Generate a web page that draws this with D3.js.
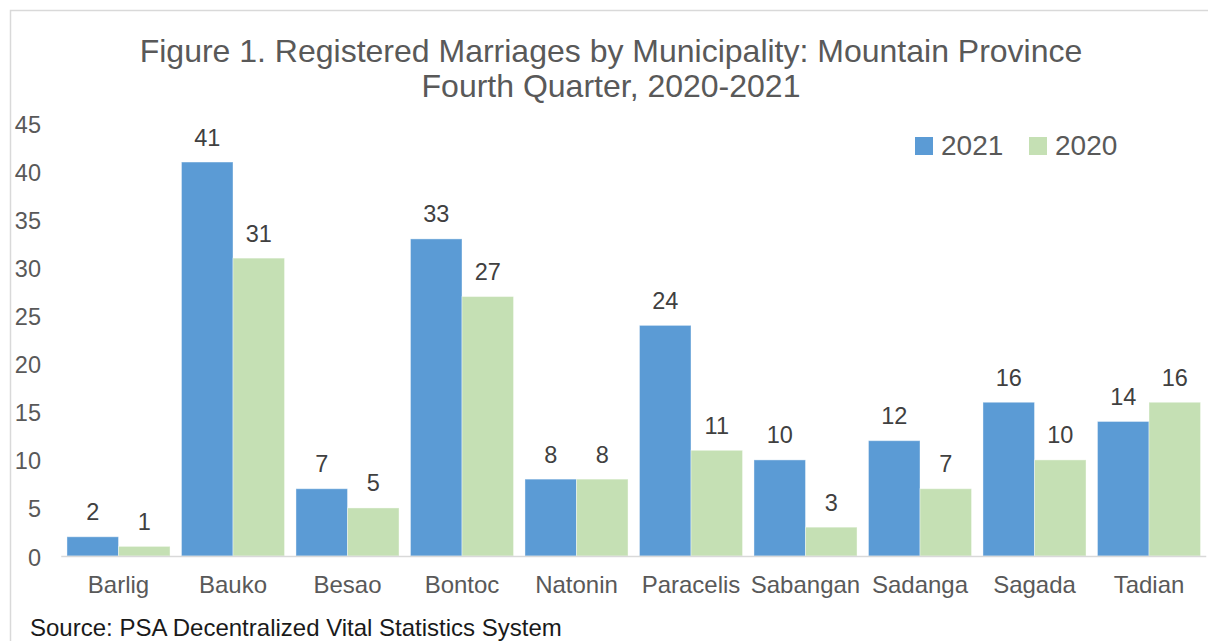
<!DOCTYPE html>
<html>
<head>
  <script src="https://d3js.org/d3.v7.min.js"></script>
  <style>
    body { margin: 0; background: #fff; }
    text { font-family: "Liberation Sans", Arial, sans-serif; }
  </style>
</head>
<body>
  <svg id="chart"></svg>
  <script>
    // data
    const categories = ['Barlig', 'Bauko', 'Besao', 'Bontoc', 'Natonin', 'Paracelis', 'Sabangan', 'Sadanga', 'Sagada', 'Tadian'];
    const series = ['2021', '2020'];
    const values2021 = [2, 41, 7, 33, 8, 24, 10, 12, 16, 14];
    const values2020 = [1, 31, 5, 27, 8, 11, 3, 7, 10, 16];
    const yTicks = [0, 5, 10, 15, 20, 25, 30, 35, 40, 45];
    const colors = { '2021': '#5b9bd5', '2020': '#c5e0b4' };

    const width = 1208, height = 641;
    const plotLeft = 61.25, plotRight = 1206.25, plotTop = 123.6, plotBottom = 556;

    const svg = d3.select('#chart').attr('width', width).attr('height', height);

    // frame
    svg.append('path')
       .attr('d', `M10.5,${height + 5} L10.5,10.5 L${width + 5},10.5`)
       .attr('fill', 'none')
       .attr('stroke', '#d9d9d9')
       .attr('stroke-width', 1.5);

    const x0 = d3.scaleBand().domain(categories).range([plotLeft, plotRight]).paddingInner(0.1).paddingOuter(0.05);
    const x1 = d3.scaleBand().domain(series).range([0, x0.bandwidth()]);
    const y = d3.scaleLinear().domain([0, 45]).range([plotBottom, plotTop]);

    // title
    svg.append('text')
       .attr('x', 611).attr('y', 62)
       .attr('text-anchor', 'middle')
       .attr('font-size', 32).attr('fill', '#595959')
       .text('Figure 1. Registered Marriages by Municipality: Mountain Province');
    svg.append('text')
       .attr('x', 611).attr('y', 97)
       .attr('text-anchor', 'middle')
       .attr('font-size', 32).attr('fill', '#595959')
       .text('Fourth Quarter, 2020-2021');

    // y axis labels
    svg.selectAll('.y-label')
       .data(yTicks)
       .enter()
       .append('text')
       .attr('class', 'y-label')
       .attr('x', 41)
       .attr('y', d => y(d) + 9.5)
       .attr('text-anchor', 'end')
       .attr('font-size', 23.5)
       .attr('fill', '#595959')
       .text(d => d);

    // bars
    const rows = categories.map((c, i) => ({ cat: c, vals: [{ s: '2021', v: values2021[i] }, { s: '2020', v: values2020[i] }] }));

    const groups = svg.selectAll('.group')
       .data(rows)
       .enter()
       .append('g')
       .attr('class', 'group')
       .attr('transform', d => `translate(${x0(d.cat)},0)`);

    groups.selectAll('rect')
       .data(d => d.vals)
       .enter()
       .append('rect')
       .attr('x', d => x1(d.s))
       .attr('y', d => y(d.v))
       .attr('width', x1.bandwidth())
       .attr('height', d => y(0) - y(d.v))
       .attr('fill', d => colors[d.s])
       .attr('stroke', '#ffffff')
       .attr('stroke-opacity', 0.4)
       .attr('stroke-width', 1);

    groups.selectAll('.val')
       .data(d => d.vals)
       .enter()
       .append('text')
       .attr('class', 'val')
       .attr('x', d => x1(d.s) + x1.bandwidth() / 2)
       .attr('y', d => y(d.v) - 16.5)
       .attr('text-anchor', 'middle')
       .attr('font-size', 23.5)
       .attr('fill', '#404040')
       .text(d => d.v);

    // x axis line
    svg.append('line')
       .attr('x1', plotLeft).attr('x2', plotRight)
       .attr('y1', y(0) + 0.5).attr('y2', y(0) + 0.5)
       .attr('stroke', '#d9d9d9').attr('stroke-width', 1.5);

    // category labels
    svg.selectAll('.x-label')
       .data(categories)
       .enter()
       .append('text')
       .attr('class', 'x-label')
       .attr('x', d => x0(d) + x0.bandwidth() / 2)
       .attr('y', 593)
       .attr('text-anchor', 'middle')
       .attr('font-size', 24)
       .attr('fill', '#595959')
       .text(d => d);

    // legend
    const legendX = [915, 1029];
    series.forEach((s, i) => {
      svg.append('rect')
         .attr('x', legendX[i]).attr('y', 137)
         .attr('width', 18).attr('height', 18)
         .attr('fill', colors[s]);
      svg.append('text')
         .attr('x', legendX[i] + 26).attr('y', 155)
         .attr('font-size', 28)
         .attr('fill', '#595959')
         .text(s);
    });

    // source
    svg.append('text')
       .attr('x', 30).attr('y', 636)
       .attr('font-size', 24)
       .attr('fill', '#1a1a1a')
       .text('Source: PSA Decentralized Vital Statistics System');
  </script>
</body>
</html>
